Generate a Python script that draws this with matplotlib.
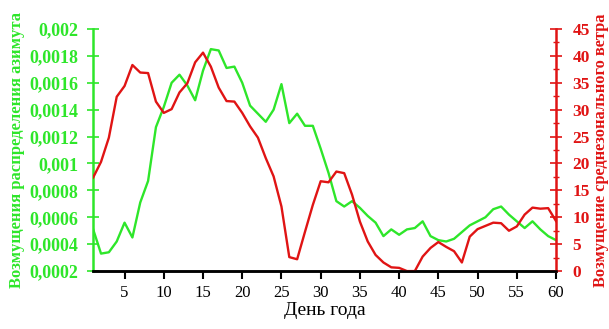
# LIBRARIES

import numpy as np
import matplotlib
matplotlib.use('Agg')
import matplotlib.pyplot as plt
from matplotlib.ticker import FuncFormatter, MultipleLocator


# DATA

days = np.arange(1, 61)

azimuth = [0.00051, 0.00033, 0.00034, 0.00042, 0.00056, 0.00045, 0.00071, 0.00087, 0.00127, 0.00142,
           0.00160, 0.00166, 0.00158, 0.00147, 0.00169, 0.00185, 0.00184, 0.00171, 0.00172, 0.00160,
           0.00143, 0.00137, 0.00131, 0.00140, 0.00159, 0.00130, 0.00137, 0.00128, 0.00128, 0.00111,
           0.00093, 0.00072, 0.00068, 0.00072, 0.00067, 0.00061, 0.00056, 0.00046, 0.00051, 0.00047,
           0.00051, 0.00052, 0.00057, 0.00046, 0.00043, 0.00042, 0.00044, 0.00049, 0.00054, 0.00057,
           0.00060, 0.00066, 0.00068, 0.00062, 0.00057, 0.00052, 0.00057, 0.00051, 0.00046, 0.00043]

wind = [17.4, 20.3, 24.8, 32.4, 34.4, 38.3, 36.9, 36.8, 31.5, 29.4,
        30.1, 33.2, 34.9, 38.8, 40.6, 38.0, 34.1, 31.6, 31.5, 29.4,
        26.9, 24.8, 21.0, 17.6, 12.0, 2.6, 2.2, 7.3, 12.3, 16.7,
        16.5, 18.5, 18.2, 14.2, 9.2, 5.5, 3.0, 1.6, 0.7, 0.6,
        0.0, 0.0, 2.7, 4.3, 5.4, 4.5, 3.7, 1.6, 6.4, 7.8,
        8.4, 9.0, 8.9, 7.5, 8.3, 10.5, 11.8, 11.6, 11.7, 9.3]

x_ticks = [5, 10, 15, 20, 25, 30, 35, 40, 45, 50, 55, 60]

green = '#2ee62a'
red = '#e01414'

plt.rcParams['font.family'] = ['Liberation Serif', 'DejaVu Serif']


# FIGURE

fig = plt.figure(figsize=(6.09, 3.29), dpi=100)
ax = fig.add_axes([0.153, 0.176, 0.760, 0.736])
ax2 = ax.twinx()

ax.plot(days, azimuth, color=green, lw=1.7)
ax2.plot(days, wind, color=red, lw=1.7)

ax.set_xlim(1, 60)
ax.set_ylim(0.0002, 0.002)
ax2.set_ylim(0, 45)

# AXES STYLE

for a in (ax, ax2):
    a.spines['top'].set_visible(False)
    a.spines['bottom'].set_linewidth(1.8)
    a.spines['bottom'].set_color('black')
ax.spines['right'].set_visible(False)
ax.spines['left'].set_color(green)
ax.spines['left'].set_linewidth(1.8)
ax2.spines['left'].set_visible(False)
ax2.spines['right'].set_color(red)
ax2.spines['right'].set_linewidth(1.8)

ax.set_xticks(x_ticks)
ax.tick_params(axis='x', direction='out', length=6, width=1.5, color='black',
               labelsize=12, pad=4)

ax.yaxis.set_major_locator(MultipleLocator(0.0002))
ax.yaxis.set_major_formatter(FuncFormatter(lambda v, p: ('%g' % round(v, 5)).replace('.', ',')))
ax.tick_params(axis='y', direction='inout', length=8, width=1.2, color=green,
               labelcolor=green, labelsize=13, pad=7)
for t in ax.get_yticklabels():
    t.set_fontweight('bold')

ax2.yaxis.set_major_locator(MultipleLocator(5))
ax2.yaxis.set_minor_locator(MultipleLocator(2.5))
ax2.tick_params(axis='y', which='major', direction='inout', length=8, width=1.2,
                color=red, labelcolor=red, labelsize=12.5, pad=8)
ax2.tick_params(axis='y', which='minor', direction='inout', length=4, width=1.0, color=red)
for t in ax2.get_yticklabels():
    t.set_fontweight('bold')

# LABELS

ax.set_xlabel('День года', fontsize=14, labelpad=1)
ax.set_ylabel('Возмущения распределения азимута', color=green, fontsize=12,
              fontweight='bold', labelpad=3)
ax2.set_ylabel('Возмущение среднезонального ветра', color=red, fontsize=11.8,
               fontweight='bold', labelpad=2)

fig.savefig('out.png', dpi=100)
